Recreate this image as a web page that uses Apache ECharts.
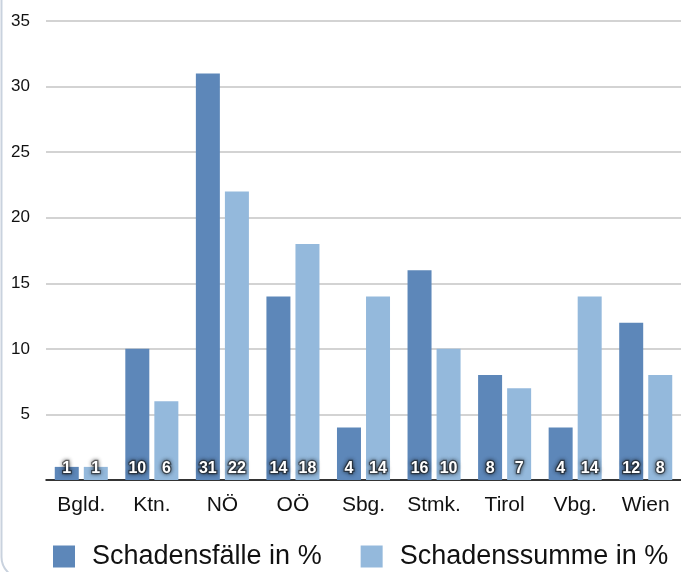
<!DOCTYPE html>
<html>
<head>
<meta charset="utf-8">
<script src="https://cdn.jsdelivr.net/npm/echarts@6/dist/echarts.min.js"></script>
<style>html,body{margin:0;padding:0;background:#fff;}#c{width:681px;height:572px;}</style>
</head>
<body>
<div id="c"></div>
<script>
const categories = ['Bgld.', 'Ktn.', 'NÖ', 'OÖ', 'Sbg.', 'Stmk.', 'Tirol', 'Vbg.', 'Wien'];
const seriesNames = ['Schadensfälle in %', 'Schadenssumme in %'];
const faelle = [1, 10, 31, 14, 4, 16, 8, 4, 12];
const summe = [1, 6, 22, 18, 14, 10, 7, 14, 8];
const yTicks = [0, 5, 10, 15, 20, 25, 30, 35];

const chart = echarts.init(document.getElementById('c'), null, {renderer: 'canvas'});
const font = '"Liberation Sans", Arial, Helvetica, sans-serif';
const labelCfg = {
  show: true,
  position: 'insideBottom',
  distance: 3,
  color: '#fff',
  fontWeight: 'bold',
  fontSize: 16,
  fontFamily: font,
  textBorderColor: 'rgba(30,30,30,0.55)',
  textBorderWidth: 2.5,
  textShadowColor: 'rgba(0,0,0,0.7)',
  textShadowBlur: 4
};
chart.setOption({
  backgroundColor: '#fff',
  animation: false,
  graphic: [{
    type: 'rect',
    shape: {x: 1.5, y: -30, width: 720, height: 608, r: 21},
    style: {fill: 'none', stroke: '#c9d2de', lineWidth: 2},
    z: -1
  }],
  grid: {left: 46, right: 0, top: 21, bottom: 92},
  legend: {
    left: 53, top: 543, padding: 0,
    itemWidth: 22, itemHeight: 22, itemGap: 39,
    icon: 'rect',
    textStyle: {fontSize: 27, fontFamily: font, color: '#111', padding: [0, 0, 0, 12]},
    data: seriesNames
  },
  xAxis: {
    type: 'category',
    data: categories,
    axisLine: {lineStyle: {color: '#000', width: 1.5}},
    axisTick: {show: false},
    axisLabel: {fontSize: 21, fontFamily: font, color: '#111', margin: 15}
  },
  yAxis: {
    type: 'value',
    min: yTicks[0], max: yTicks[yTicks.length - 1], interval: 5,
    axisLine: {show: false},
    axisTick: {show: false},
    splitLine: {lineStyle: {color: '#c4c4c4', width: 1.5}},
    axisLabel: {
      fontSize: 17, fontFamily: font, color: '#111', margin: 16,
      formatter: v => (v === 0 ? '' : String(v))
    }
  },
  series: [
    {name: seriesNames[0], type: 'bar', data: faelle, barWidth: 24, barGap: '21%',
     itemStyle: {color: '#5d87b9'}, label: labelCfg},
    {name: seriesNames[1], type: 'bar', data: summe, barWidth: 24, barGap: '21%',
     itemStyle: {color: '#94b9dc'}, label: labelCfg}
  ]
});
</script>
</body>
</html>
